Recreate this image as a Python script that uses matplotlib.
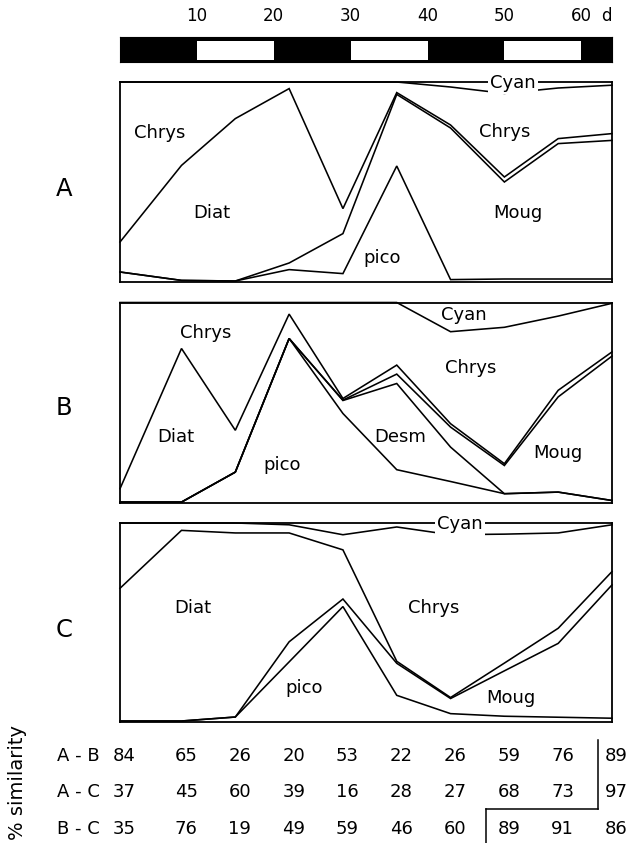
import matplotlib
matplotlib.use("Agg")
import matplotlib.pyplot as plt
import matplotlib.transforms as mtransforms
from matplotlib.lines import Line2D
import numpy as np

plt.rcParams['font.family'] = ['DejaVu Sans']

# ---------------- data ----------------
days = [0, 8, 15, 22, 29, 36, 43, 50, 57, 64]
light_periods = [(10, 20), (30, 40), (50, 60)]
day_ticks = [10, 20, 30, 40, 50, 60]

# composition (% of biomass), stacked bottom -> top
pico_A  = [5.0, 0.8, 0.5, 6.2, 4.2, 58.0, 1.2, 1.5, 1.5, 1.5]
moug_A  = [0.0, 0.0, 0.0, 3.3, 20.0, 35.8, 75.8, 48.5, 67.7, 69.3]
diat_A  = [15.0, 57.5, 81.2, 87.2, 12.5, 0.9, 1.5, 2.5, 2.5, 3.4]
chrys_A = [80.0, 41.7, 18.3, 3.3, 63.3, 5.3, 19.0, 41.8, 25.3, 24.2]
cyan_A  = [0.0, 0.0, 0.0, 0.0, 0.0, 0.0, 2.5, 5.7, 3.0, 1.6]

pico_B  = [0.2, 0.2, 15.2, 82.0, 44.5, 16.4, 10.5, 4.4, 5.2, 1.0]
desm_B  = [0.0, 0.0, 0.0, 0.0, 6.5, 43.1, 17.2, 0.0, 0.0, 0.0]
moug_B  = [0.0, 0.0, 0.0, 0.0, 0.2, 4.7, 10.0, 14.1, 47.6, 72.2]
diat_B  = [6.7, 76.8, 20.9, 12.2, 0.8, 4.5, 1.7, 0.9, 3.3, 2.1]
chrys_B = [93.1, 23.0, 63.9, 5.8, 48.0, 31.3, 46.0, 68.2, 37.1, 24.3]
cyan_B  = [0.0, 0.0, 0.0, 0.0, 0.0, 0.0, 14.6, 12.4, 6.8, 0.4]

pico_C  = [0.5, 0.5, 2.5, 30.2, 58.0, 13.4, 4.2, 2.9, 2.4, 1.9]
moug_C  = [0.0, 0.0, 0.0, 10.1, 3.8, 16.1, 7.6, 22.8, 37.1, 67.0]
diat_C  = [66.7, 95.8, 92.5, 54.7, 24.7, 1.0, 0.5, 3.9, 7.6, 6.7]
chrys_C = [32.8, 3.7, 5.0, 4.1, 7.6, 67.5, 81.8, 64.8, 47.9, 23.5]
cyan_C  = [0.0, 0.0, 0.0, 0.9, 5.9, 2.0, 5.9, 5.6, 5.0, 0.9]

pair_labels = ["A - B", "A - C", "B - C"]
sim_AB = [84, 65, 26, 20, 53, 22, 26, 59, 76, 89]
sim_AC = [37, 45, 60, 39, 16, 28, 27, 68, 73, 97]
sim_BC = [35, 76, 19, 49, 59, 46, 60, 89, 91, 86]

# ---------------- figure ----------------
W, H = 634, 843
fig = plt.figure(figsize=(W / 100, H / 100), dpi=100)


def ax_px(x0, y0, x1, y1):
    return fig.add_axes([x0 / W, 1 - y1 / H, (x1 - x0) / W, (y1 - y0) / H])


LW = 1.15
TXT = 13

# light/dark bar
axbar = ax_px(120, 37, 612, 62)
axbar.set_facecolor('black')
axbar.broken_barh([(a, b - a) for a, b in light_periods], (0.10, 0.74),
                  facecolors='white', edgecolor='none')
axbar.set_xlim(days[0], days[-1])
axbar.set_ylim(0, 1)
axbar.set_xticks([])
axbar.set_yticks([])
for s in axbar.spines.values():
    s.set_color('black')
btr = mtransforms.blended_transform_factory(axbar.transData, axbar.transAxes)
for d in day_ticks:
    axbar.text(d, 1.85, str(d), ha='center', va='center', fontsize=12, transform=btr)
axbar.text(63.3, 1.85, "d", ha='center', va='center', fontsize=12, transform=btr)


def panel(box, layers, labels, letter, letter_y, cyan_box=False):
    ax = ax_px(*box)
    ax.set_xlim(days[0], days[-1])
    ax.set_ylim(0, 100)
    ax.set_xticks([])
    ax.set_yticks([])
    for s in ax.spines.values():
        s.set_linewidth(1.3)
        s.set_color('black')
    cum = np.zeros(len(days))
    for vals in layers:
        cum = cum + np.asarray(vals)
        ax.plot(days, np.minimum(cum, 100), color='black', lw=LW,
                solid_joinstyle='miter', clip_on=False)
    for (txt, x, y) in labels:
        kw = {}
        if txt == "Cyan" and cyan_box:
            kw['bbox'] = dict(boxstyle='square,pad=0.12', fc='white', ec='none')
        ax.text(x, y, txt, ha='center', va='center', fontsize=TXT, zorder=5, **kw)
    fig.text(64 / W, 1 - letter_y / H, letter, ha='center', va='center', fontsize=17.5)
    return ax


axA = panel((120, 82, 612, 282),
            [pico_A, moug_A, diat_A, chrys_A],
            [("Chrys", 5.1, 74.5), ("Diat", 11.9, 34.3), ("pico", 34.1, 11.8),
             ("Moug", 51.7, 34.3), ("Chrys", 50.0, 75.2), ("Cyan", 51.1, 99.5)],
            "A", 189, cyan_box=True)

axB = panel((120, 302.5, 612, 502.5),
            [pico_B, desm_B, moug_B, diat_B, chrys_B],
            [("Chrys", 11.1, 84.6), ("Diat", 7.2, 32.9), ("pico", 21.1, 18.7),
             ("Desm", 36.5, 32.9), ("Chrys", 45.6, 67.1), ("Moug", 56.9, 24.6),
             ("Cyan", 44.7, 93.7)],
            "B", 408)

axC = panel((120, 523, 612, 722),
            [pico_C, moug_C, diat_C, chrys_C],
            [("Diat", 9.5, 57.1), ("Chrys", 40.8, 57.1), ("pico", 23.9, 16.9),
             ("Moug", 50.8, 11.9), ("Cyan", 44.2, 99.3)],
            "C", 630, cyan_box=True)

# similarity table
tr = mtransforms.blended_transform_factory(axC.transData, fig.transFigure)
row_y = [756, 792, 829]
for lab, vals, ry in zip(pair_labels, [sim_AB, sim_AC, sim_BC], row_y):
    fig.text(57 / W, 1 - ry / H, lab, ha='left', va='center', fontsize=TXT)
    for d, v in zip(days, vals):
        fig.text(d + 0.6, 1 - ry / H, str(v), ha='center', va='center',
                 fontsize=TXT, transform=tr)

fig.add_artist(Line2D([62.2, 62.2], [1 - 740 / H, 1 - 809 / H], color='black', lw=1.1, transform=tr))
fig.add_artist(Line2D([47.6, 62.2], [1 - 809 / H, 1 - 809 / H], color='black', lw=1.1, transform=tr))
fig.add_artist(Line2D([47.6, 47.6], [1 - 809 / H, 1 - 845 / H], color='black', lw=1.1, transform=tr))

fig.text(18 / W, 1 - 783 / H, "% similarity", rotation=90, ha='center', va='center', fontsize=14)

fig.savefig("out.png", dpi=100, facecolor='white')
